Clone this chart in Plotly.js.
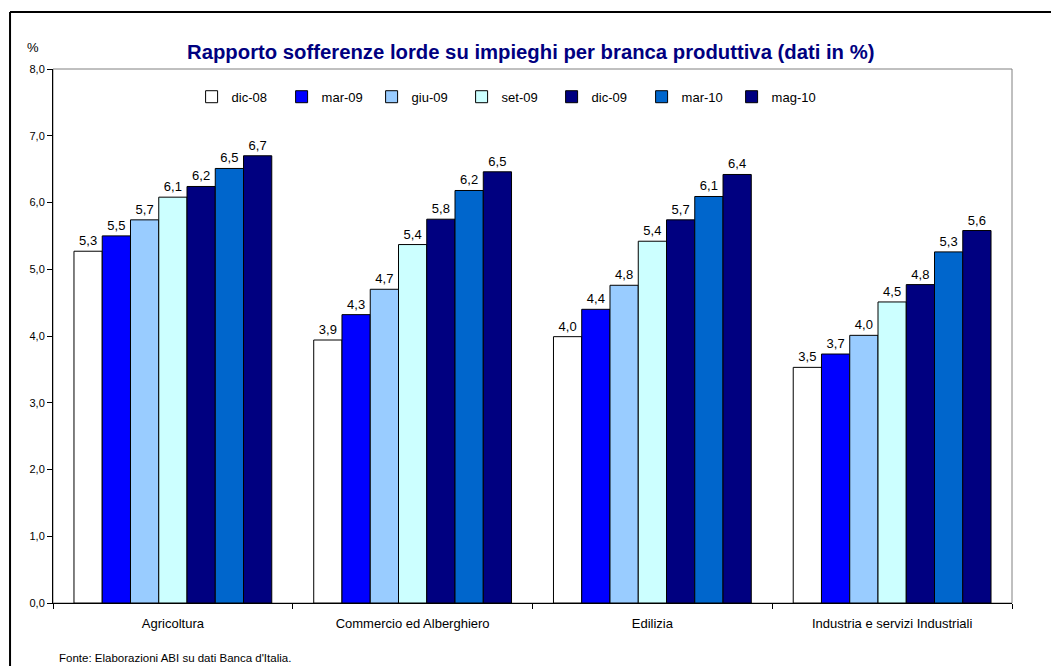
<!DOCTYPE html>
<html>
<head>
<meta charset="utf-8">
<script src="https://cdn.plot.ly/plotly-3.0.1.min.js"></script>
<style>
html,body{margin:0;padding:0;background:#fff;}
#chart{width:1051px;height:666px;}
</style>
</head>
<body>
<div id="chart"></div>
<script>
const categories = ["Agricoltura", "Commercio ed Alberghiero", "Edilizia", "Industria e servizi Industriali"];
const seriesNames = ["dic-08", "mar-09", "giu-09", "set-09", "dic-09", "mar-10", "mag-10"];
const dic08 = [5.27, 3.94, 3.99, 3.53];
const mar09 = [5.50, 4.32, 4.40, 3.73];
const giu09 = [5.74, 4.70, 4.76, 4.01];
const set09 = [6.08, 5.37, 5.42, 4.51];
const dic09 = [6.24, 5.75, 5.74, 4.77];
const mar10 = [6.51, 6.18, 6.09, 5.26];
const mag10 = [6.70, 6.46, 6.42, 5.58];
const seriesValues = [dic08, mar09, giu09, set09, dic09, mar10, mag10];
const colors = ["#FFFFFF", "#0000FF", "#99CCFF", "#CCFFFF", "#000080", "#0066CC", "#000080"];

const FONT = "Arial, 'Liberation Sans', sans-serif";

const traces = seriesNames.map((name, i) => ({
  type: "bar",
  name: name,
  x: categories,
  y: seriesValues[i],
  marker: {color: colors[i], line: {color: "#000000", width: 1}},
  text: seriesValues[i].map(v => v.toFixed(1).replace(".", ",")),
  textposition: "outside",
  textfont: {family: FONT, size: 13, color: "#000"},
  cliponaxis: false,
  hoverinfo: "x+y+name"
}));

const layout = {
  width: 1051,
  height: 666,
  margin: {l: 53, r: 39, t: 69, b: 63},
  paper_bgcolor: "#FFFFFF",
  plot_bgcolor: "#FFFFFF",
  separators: ",.",
  font: {family: FONT, size: 12, color: "#000"},
  barmode: "group",
  bargap: 0.175,
  bargroupgap: 0,
  showlegend: true,
  legend: {
    orientation: "h",
    x: 0.473, xanchor: "center",
    y: 0.948, yanchor: "middle",
    bgcolor: "rgba(0,0,0,0)",
    font: {family: FONT, size: 13, color: "#000"},
    itemwidth: 30,
    entrywidth: 45,
    entrywidthmode: "pixels",
    traceorder: "normal"
  },
  title: {
    text: "<b>Rapporto sofferenze lorde su impieghi per branca produttiva (dati in %)</b>",
    font: {family: FONT, size: 20.3, color: "#000080"},
    x: 0.505, xanchor: "center",
    y: 0.922, yanchor: "middle"
  },
  xaxis: {
    type: "category",
    showline: true, linecolor: "#000", linewidth: 1,
    ticks: "outside", tickson: "boundaries", ticklen: 5, tickcolor: "#000",
    ticklabelstandoff: 8,
    tickfont: {family: FONT, size: 13, color: "#000"},
    showgrid: false, zeroline: false,
    fixedrange: true
  },
  yaxis: {
    range: [0, 8],
    dtick: 1,
    tickformat: ".1f",
    showline: true, linecolor: "#000", linewidth: 1,
    ticks: "outside", ticklen: 5, tickcolor: "#000",
    tickfont: {family: FONT, size: 11, color: "#000"},
    showgrid: false, zeroline: false,
    fixedrange: true
  },
  shapes: [
    {type: "rect", xref: "paper", yref: "paper", x0: 0, x1: 1, y0: 0, y1: 1,
     line: {color: "#808080", width: 1}, fillcolor: "rgba(0,0,0,0)", layer: "below"},
    {type: "line", xref: "paper", yref: "paper", x0: -0.0448, x1: 1.1, y0: 1.1067, y1: 1.1067,
     line: {color: "#000", width: 2}},
    {type: "line", xref: "paper", yref: "paper", x0: -0.0448, x1: -0.0448, y0: -0.2, y1: 1.1067,
     line: {color: "#000", width: 2}}
  ],
  annotations: [
    {text: "%", xref: "paper", yref: "paper", x: -0.0209, y: 1.04, xanchor: "center", yanchor: "middle",
     showarrow: false, font: {family: FONT, size: 13, color: "#000"}},
    {text: "Fonte: Elaborazioni ABI su dati Banca d'Italia.", xref: "paper", yref: "paper",
     x: 0.0042, y: -0.1036, xanchor: "left", yanchor: "middle",
     showarrow: false, font: {family: FONT, size: 11.5, color: "#000"}}
  ]
};

Plotly.newPlot("chart", traces, layout, {displayModeBar: false, staticPlot: false});
</script>
</body>
</html>
